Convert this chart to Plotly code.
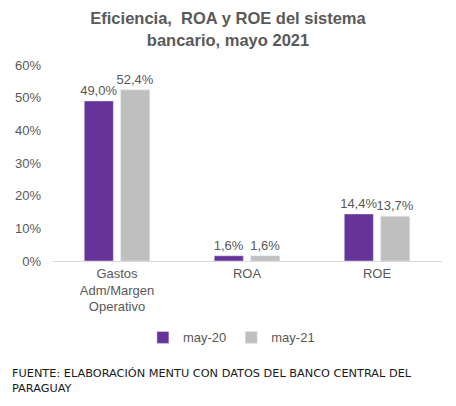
import plotly.graph_objects as go

# Data
categories = ['Gastos<br>Adm/Margen<br>Operativo', 'ROA', 'ROE']
may_20 = [49.0, 1.6, 14.4]
may_21 = [52.4, 1.6, 13.7]
y_ticks = [0, 10, 20, 30, 40, 50, 60]

TEXT_GREY = '#595959'
FONT = 'Liberation Sans, Arial, sans-serif'


def build_figure():
    fig = go.Figure()
    for name, values, colour in [('may-20', may_20, '#663399'),
                                 ('may-21', may_21, '#BFBFBF')]:
        fig.add_trace(go.Bar(
            name=name, x=categories, y=values,
            marker_color=colour,
            texttemplate='%{y:.1f}%', textposition='outside',
            constraintext='none',
            textfont=dict(size=13, color=TEXT_GREY),
            cliponaxis=False,
        ))

    fig.update_layout(
        width=456, height=406,
        margin=dict(l=52, r=14, t=65, b=145, autoexpand=False),
        paper_bgcolor='white', plot_bgcolor='white',
        separators=',.',
        font=dict(family=FONT, size=13, color=TEXT_GREY),
        barmode='group', bargap=0.44, bargroupgap=0.2,
        title=dict(
            text='<b>Eficiencia,  ROA y ROE del sistema<br>bancario, mayo 2021</b>',
            x=0.5, xanchor='center', y=0.94, yanchor='top',
            font=dict(family=FONT, size=16.5, color=TEXT_GREY),
        ),
        showlegend=True,
        legend=dict(
            orientation='h', x=0.46, xanchor='center', y=-0.39, yanchor='middle',
            font=dict(size=13, color=TEXT_GREY),
            itemwidth=30, traceorder='normal',
        ),
    )
    fig.update_yaxes(
        range=[0, 60], tickvals=y_ticks, ticktext=[f'{v}%' for v in y_ticks],
        showgrid=False, zeroline=False, showline=False,
        ticks='', ticklabelstandoff=10, automargin=False,
        tickfont=dict(size=13, color=TEXT_GREY),
    )
    fig.update_xaxes(
        showline=True, linecolor='#D9D9D9', linewidth=1,
        showgrid=False, ticks='', automargin=False,
        tickfont=dict(size=13, color=TEXT_GREY),
    )

    fig.add_annotation(
        text='FUENTE: ELABORACIÓN MENTU CON DATOS DEL BANCO CENTRAL DEL<br>PARAGUAY',
        xref='paper', yref='paper', x=-0.108, y=-0.61,
        xanchor='left', yanchor='middle', align='left', showarrow=False,
        font=dict(family='DejaVu Sans, sans-serif', size=11.3, color='#1a1a1a'),
    )
    return fig


def main():
    fig = build_figure()
    # drop the browser's default body margin so the figure sits at the page corner
    fig.write_html('out.html', config={'displayModeBar': False},
                   post_script="document.body.style.margin='0';")


if __name__ == '__main__':
    main()
